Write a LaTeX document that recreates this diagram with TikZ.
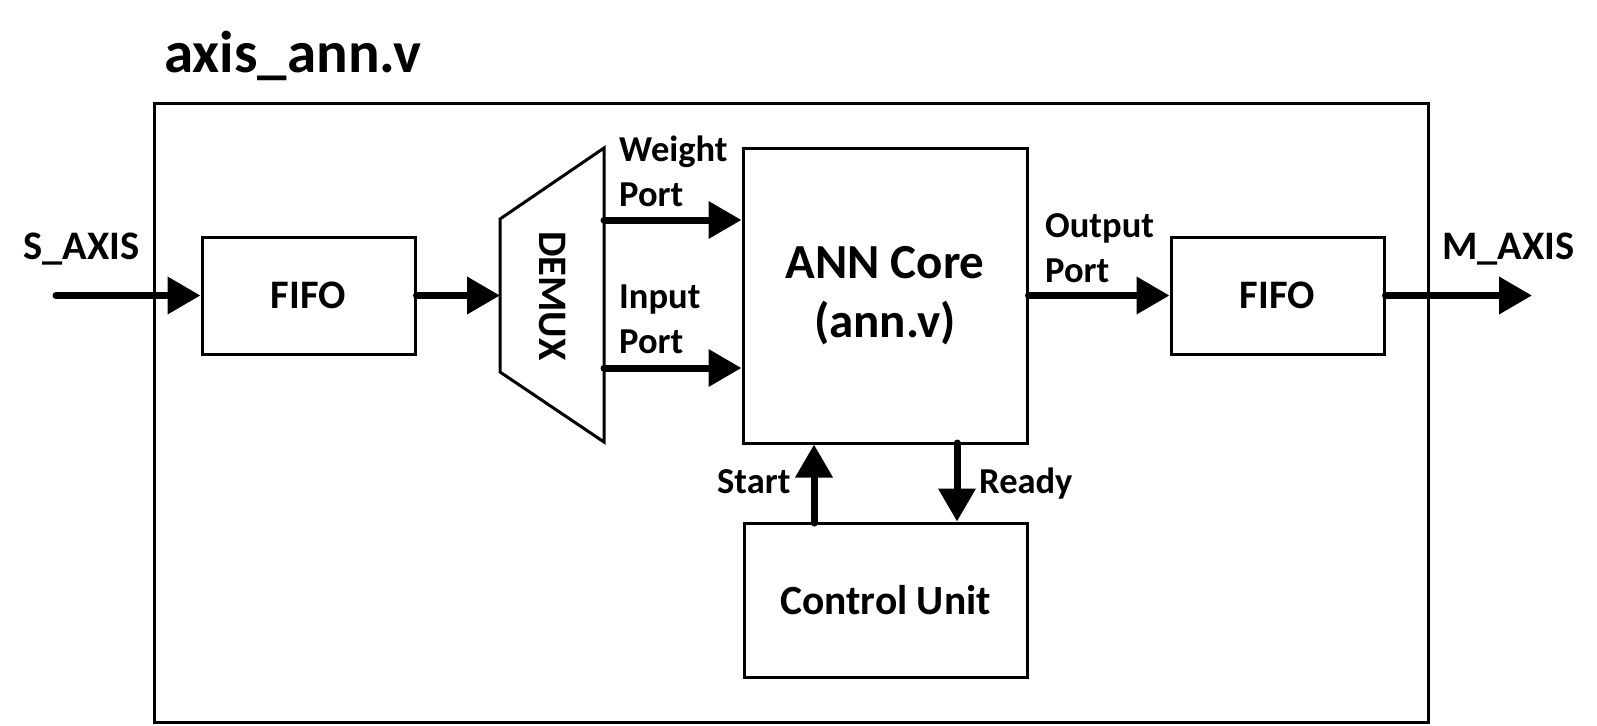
\documentclass[tikz,border=0pt]{standalone}
\usepackage{fontspec}
\setmainfont{Carlito}
\usetikzlibrary{arrows.meta,calc}
\begin{document}
\begin{tikzpicture}[x=1pt,y=-1pt,
  box/.style={draw,line width=3pt,rectangle,inner sep=0pt,font=\bfseries\fontsize{40.5}{48}\selectfont},
  arr/.style={line width=7pt,line cap=round,-{Triangle[length=33pt,width=36pt]}},
  lbl/.style={inner sep=0pt,align=left,font=\bfseries\fontsize{36.5}{44.5}\selectfont},
  big/.style={inner sep=0pt,font=\bfseries\fontsize{40.5}{48}\selectfont}]
\useasboundingbox (0,0) rectangle (1597,725);
% title and frame
\node[inner sep=0pt,anchor=base west,font=\bfseries\fontsize{59}{70}\selectfont] (title) at (164,73) {axis\_ann.v};
\node[draw,line width=3pt,minimum width=1274pt,minimum height=619pt,inner sep=0pt] (outer) at (791,412.5) {};
% blocks
\node[box,minimum width=213pt,minimum height=117pt] (fifoL) at (308.5,295.5) {FIFO};
\node[box,minimum width=213pt,minimum height=117pt] (fifoR) at (1277.5,295.5) {FIFO};
\node[box,minimum width=284pt,minimum height=295pt,align=center,font=\bfseries\fontsize{49}{59}\selectfont] (ann) at (885,295.5) {ANN Core\\(ann.v)};
\node[box,minimum width=283pt,minimum height=154pt,font=\bfseries\fontsize{41.5}{50}\selectfont] (ctrl) at (885.5,600) {Control Unit};
% demux
\draw[line width=3pt,line join=miter] (500,219) -- (604,148) -- (604,442) -- (500,372) -- cycle;
\node[big,rotate=-90] (demux) at (552,296) {DEMUX};
\coordinate (dmin) at (500,295.5);
\coordinate (dw) at (604,220);
\coordinate (di) at (604,368);
\coordinate (sin) at (56,295.5);
\coordinate (mout) at (1532,295.5);
\coordinate (st) at (814,523);
\coordinate (rd) at (957,443);
% connectors
\draw[arr] (sin) -- (fifoL.west);
\draw[arr] (fifoL.east) -- (dmin);
\draw[arr] (dw) -- (dw -| ann.west);
\draw[arr] (di) -- (di -| ann.west);
\draw[arr] (ann.east) -- (fifoR.west);
\draw[arr] (fifoR.east) -- (mout);
\draw[arr] (st) -- (st |- ann.south);
\draw[arr] (rd) -- (rd |- ctrl.north);
% labels
\node[big,anchor=base west] (saxis) at (23,259) {S\_AXIS};
\node[big,anchor=base west] (maxis) at (1442,259) {M\_AXIS};
\node[lbl,anchor=base west] (wport) at (619,206) {Weight\\Port};
\node[lbl,anchor=base west] (iport) at (619,353) {Input\\Port};
\node[lbl,anchor=base west] (oport) at (1045,282) {Output\\Port};
\node[lbl,anchor=base west] (start) at (717,493) {Start};
\node[lbl,anchor=base west] (ready) at (979,493) {Ready};
\end{tikzpicture}
\end{document}
